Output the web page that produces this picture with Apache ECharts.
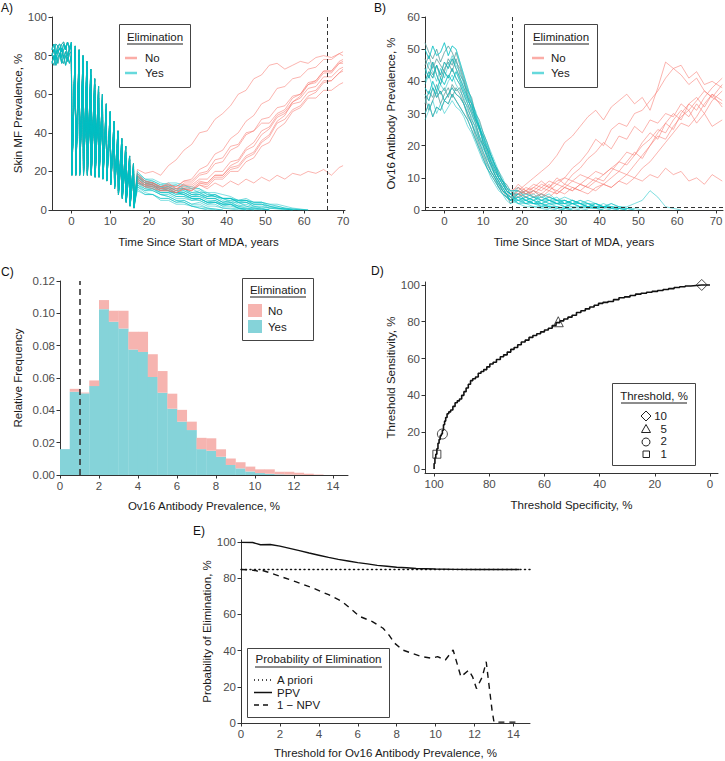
<!DOCTYPE html>
<html><head><meta charset="utf-8">
<script src="https://cdn.jsdelivr.net/npm/echarts@6/dist/echarts.min.js"></script>
<style>html,body{margin:0;padding:0;background:#fff}#c{width:725px;height:761px}</style>
</head><body><div id="c"></div>
<script>
// ---------------- DATA ----------------
// Panel A: skin mf prevalence trajectories
const A_PRE_T = [-5,-4.5,-4,-3.5,-3,-2.5,-2,-1.5,-1,-0.5,0];
const A_PRE_1 = [80,83,78,82,84,79,83,85,80,84,85];
const A_PRE_2 = [77,75,80,76,81,77,76,80,77,81,82];
const A_PRE_3 = [84,82,86,85,83,86,87,84,87,83,86];
const A_PRE_4 = [81,78,81,83,80,84,79,82,78,83,84];
const A_PRE_5 = [76,80,75,79,81,76,80,75,79,76,80];
const A_PRE_6 = [83,86,81,85,86,82,86,83,87,84,87];
const A_MDA_ROUNDS = [0,1,2,3,4,5,6,7,8,9,10,11,12,13,14,15,16];
const A_DROP_T = 0.12;
const A_PEAK_1 = [85,83,80,77,73,68,64,60,55,51,46,41,37,33,28,24];
const A_PEAK_2 = [83,80,77,74,70,65,61,57,52,48,43,38,34,30,26,22];
const A_PEAK_3 = [81,78,74,71,67,62,58,54,49,45,40,35,31,27,23,20];
const A_TROUGH_1 = [20,20,20,20,20,20,19,19,18,17,15,13,10,8,6,4,3];
const A_TROUGH_2 = [19,19,19,19,19,19,18,18,17,16,14,12,9,7,5,3,2];
const A_TROUGH_3 = [18,18,18,18,18,18,17,17,16,15,13,11,8,6,4,2,1];
const A_POST_T = [17,19,21,23,25,27,29,31,33,35,37,39,41,43,45,47,49,51,53,55,57,59,61,63,65,67,69,70];
// "No" (no elimination) runs after MDA stops
const A_NO_1 = [21,19,20,18,23,26,31,34,40,41,47,50,54,60,62,68,70,75,76,73,75,77,76,79,80,79,81,82];
const A_NO_2 = [19,15,14,12,13,12,15,16,21,23,29,31,37,40,46,49,55,57,63,64,68,69,73,74,78,78,81,80];
const A_NO_3 = [18,14,13,11,12,10,14,14,18,19,24,25,31,33,39,41,47,48,53,54,59,60,66,67,72,72,77,78];
const A_NO_4 = [16,13,12,10,11,9,11,10,14,14,18,18,23,25,31,33,39,42,48,50,55,56,61,62,67,67,71,72];
const A_NO_5 = [17,14,14,12,14,11,13,13,16,16,20,20,25,26,32,35,41,43,49,51,56,58,63,64,69,69,73,74];
const A_NO_6 = [15,12,12,10,10,9,11,10,13,12,16,16,20,20,25,27,33,35,42,45,51,53,58,58,62,62,65,66];
const A_NO_7 = [16,13,13,11,11,10,12,11,14,13,17,17,21,22,27,29,35,38,45,47,52,54,59,61,66,67,71,73];
const A_NO_8 = [14,12,11,10,10,9,11,10,13,11,14,12,15,13,16,14,17,15,18,16,19,18,20,19,21,18,22,23];
const A_NO_9 = [18,15,14,12,13,12,15,15,19,20,26,27,33,34,40,41,45,45,50,52,58,60,65,66,71,71,76,77];
const A_NO_10 = [15,13,13,11,12,11,13,12,15,14,18,18,22,23,28,30,36,39,46,49,56,59,65,67,72,72,76,76];
// "Yes" (elimination) runs after MDA stops
const A_YES_1 = [17,14,13,11,10,8,8,6,6,4,4,2,2,1,0.5,0];
const A_YES_2 = [19,15,14,12,12,13,11,11,9,9,7,6,4,4,2,1,0.5,0];
const A_YES_3 = [14,11,10,8,7,5,5,3,3,1,0.5,0];
const A_YES_4 = [18,14,13,10,10,8,9,7,7,6,6,4,5,5,6,4,4,2,1,0.5,0];
const A_YES_5 = [15,12,11,8,7,5,4,2,1,0];
const A_YES_6 = [16,13,13,11,11,9,9,7,8,6,6,4,5,3,4,2,2,1,1,0.5,0];
const A_YES_7 = [20,16,15,13,12,10,10,8,8,6,6,4,4,2,1,0.5,0];
const A_YES_8 = [13,10,10,8,8,6,6,5,5,3,4,2,3,1,1,0.5,0.5,0];
const A_YES_9 = [17,15,15,13,14,14,13,11,11,8,8,6,6,4,4,2,1,0];
const A_YES_10 = [14,12,12,9,9,7,7,5,6,4,5,3,4,2,3,1.5,1.5,1,1,0.5,0.3,0.2,0];
const A_YES_11 = [12,9,8,6,6,4,4,2,2,1,0.5,0];
const A_YES_12 = [16,14,14,12,13,11,11,9,9,7,8,6,6,5,5,4,4,3,3,2,1,0.5,0];
const A_YES_13 = [15,12,12,10,10,9,9,7,7,5,5,3,3,1,0];
const A_YES_14 = [11,8,8,6,6,4,5,3,4,2,2,1,1,0.5,0];
const A_YES_15 = [18,15,14,12,11,11,11,9,10,8,7,6,6,4,5,4,4,3,2,1,0.5,0];
const A_YES_16 = [13,11,11,9,9,7,7,6,6,4,4,3,3,2,2,1,0.5,0];
const A_YES_17 = [16,13,13,10,11,9,10,8,9,7,8,6,6,5,5,3,3,2,1,0.5,0];
const A_YES_18 = [12,10,11,9,9,9,8,6,6,4,4,3,3,1,0.5,0];
const A_YES_19 = [19,16,16,14,13,13,12,12,11,9,9,8,7,5,5,3,3,1,0.5,0];
const A_YES_20 = [14,13,12,12,10,9,8,6,5,3,3,1,0.5,0];
const A_YES_21 = [10,8,8,5,5,3,3,2,1,0.5,0];
const A_YES_22 = [17,14,14,11,12,10,11,8,8,7,7,5,6,4,4,3,3,2,2,1,0.5,0.3,0];
const A_REF_X = 66;

// Panel B: Ov16 antibody prevalence trajectories
const B_PHASE_T = [-5,-4,-3,-2,-1,0,1,2,3,4,5,6,7,8,9,10,11,12,13,14,15,16,17];
const B_PHASE_1 = [44,41,46,42,39,43,41,44,41,39,36,33,30,27,23,20,17,14,11,9,7,5,4];
const B_PHASE_2 = [36,34,38,35,37,34,36,38,36,35,33,30,27,24,21,18,15,12,10,8,6,5,3];
const B_PHASE_3 = [50,47,51,48,49,52,48,51,50,46,42,38,34,30,26,22,19,16,13,10,8,6,5];
const B_PHASE_4 = [30,33,29,32,31,34,33,36,34,32,30,28,25,22,19,16,13,11,9,7,5,4,3];
const B_PHASE_5 = [40,43,41,45,42,46,44,47,44,41,38,35,31,28,25,21,18,15,12,10,8,6,5];
const B_PHASE_6 = [38,36,40,37,41,39,42,40,43,40,37,34,32,29,26,23,20,17,14,11,9,7,6];
const B_PHASE_7 = [47,44,42,45,41,44,46,43,47,42,40,35,33,28,26,21,19,15,13,10,9,6,4];
const B_PHASE_8 = [33,37,35,39,36,38,35,39,37,38,34,32,28,26,22,20,16,14,11,9,6,5,2];
const B_PHASE_9 = [42,46,43,40,44,41,45,48,45,43,39,37,33,31,27,24,21,18,15,12,10,7,5];
const B_PHASE_10 = [35,31,34,37,33,36,38,35,38,36,33,29,27,23,20,17,14,12,10,7,6,4,3];
const B_PHASE_11 = [45,48,44,47,45,43,47,45,49,45,41,37,35,30,28,24,21,17,14,12,9,8,6];
const B_PHASE_12 = [39,42,38,36,39,37,40,42,39,37,35,31,29,25,22,19,17,13,11,8,7,5,3];
const B_PHASE_13 = [52,49,47,50,46,49,51,49,46,44,40,36,33,29,25,23,19,17,14,11,9,7,5];
const B_PHASE_14 = [28,31,34,30,33,30,32,34,32,31,29,26,24,21,18,15,13,10,8,6,5,3,2];
const B_POST_T = [19,21,23,25,27,29,31,33,35,37,39,41,43,45,47,49,51,53,55,57,59,61,63,65,67,69,71.6];
const B_NO_1 = [6,8,10,12,14,17,21,23,26,29,31,28,32,34,36,33,35,31,38,46,44,45,41,43,39,40,38];
const B_NO_2 = [5,7,6,8,7,9,10,13,15,18,22,20,25,27,26,30,31,34,37,41,44,42,39,41,37,35,33];
const B_NO_3 = [4,6,5,7,6,5,7,6,8,7,9,8,10,12,11,14,17,20,24,27,30,28,33,35,32,36,34];
const B_NO_4 = [7,5,6,4,6,8,7,9,8,10,9,11,13,12,15,18,16,20,23,22,26,29,31,34,37,35,39];
const B_NO_5 = [5,6,4,5,7,6,8,7,6,8,10,9,12,15,14,17,21,24,22,27,25,30,33,31,35,38,41];
const B_NO_6 = [6,5,7,6,8,5,7,6,8,7,6,8,7,9,8,10,9,11,10,13,11,12,9,10,8,11,9];
const B_NO_7 = [8,6,7,9,7,10,8,11,13,16,18,21,19,23,22,26,24,28,27,30,29,33,31,27,30,26,28];
const B_NO_8 = [5,4,6,5,4,6,5,7,6,5,7,8,7,9,11,10,13,15,18,21,24,27,26,29,33,36,32];
const B_NO_9 = [7,6,8,7,9,8,10,9,11,10,12,11,13,15,18,17,20,22,25,24,28,31,29,33,30,34,37];
const B_YES_1 = [3,2,3,2,1.5,2,1,1,0.5,0];
const B_YES_2 = [4,3,4,3,3,2,2,3,2,1,1,0.5,0];
const B_YES_3 = [2,2,1,1,0.5,0];
const B_YES_4 = [5,4,3,4,3,2,3,2,2,1,2,1,1,0.5,0];
const B_YES_5 = [3,4,3,2,3,2,2,1,1,0.5,0.5,0];
const B_YES_6 = [6,4,5,3,4,3,2,3,2,2,1,2,1,1,0.5,0.5,0];
const B_YES_7 = [2,1,1,0.5,0];
const B_YES_8 = [4,5,4,3,4,3,3,2,3,2,2,1,2,1,1,2,3,6,4,1,0.5,0];
const B_YES_9 = [3,3,2,2,1,1,0.5,0.5,0];
const B_YES_10 = [5,3,4,2,3,2,1,2,1,1,0.5,0];
const B_YES_11 = [4,3,2,3,2,2,3,2,1,2,1,1,1,0.5,0.5,0];
const B_YES_12 = [2,3,2,1,1,0.5,0];
const B_YES_13 = [6,5,4,4,3,3,2,2,2,1,1,1,0.5,0.5,0];
const B_YES_14 = [3,2,2,1.5,1,1,0.5,0];
const B_YES_15 = [5,6,4,5,3,4,2,3,2,1,2,1,0.5,0];
const B_YES_16 = [4,2,3,1,2,1,0.5,0];
const B_YES_17 = [7,5,6,4,5,3,4,3,2,3,2,1,1,0.5,0];
const B_YES_18 = [3,4,2,3,2,3,1,2,1,1,0.5,1,0.5,0];
const B_YES_19 = [5,3,2,2,1,0.5,0];
const B_YES_20 = [6,4,3,5,4,3,3,2,3,2,1,1,2,1,0.5,0];
const B_REF_X = 17.5;
const B_REF_Y = 1;

// Panel C: histogram (bin width 0.5)
const C_BIN_START = [0,0.5,1,1.5,2,2.5,3,3.5,4,4.5,5,5.5,6,6.5,7,7.5,8,8.5,9,9.5,10,10.5,11,11.5,12,12.5,13];
const C_BIN_WIDTH = 0.5;
const C_YES = [0.016,0.0515,0.0505,0.0550,0.1026,0.0948,0.0906,0.0776,0.0761,0.0606,0.0509,0.0410,0.0330,0.0278,0.0160,0.0150,0.0113,0.0062,0.0041,0.0022,0.0012,0.0008,0.0004,0.0002,0.0001,0,0];
const C_NO  = [0,0.0018,0.0005,0.0035,0.0056,0.0068,0.0110,0.0110,0.0125,0.0141,0.0134,0.0093,0.0073,0.0052,0.0070,0.0077,0.0046,0.0040,0.0038,0.0030,0.0023,0.0027,0.0016,0.0018,0.0013,0.0008,0.0003];
const C_REF_X = 1;

// Panel D: ROC-style step curve (specificity, sensitivity)
const D_SPEC = [100,99.7,99.4,99,98.6,98.2,97.8,97.4,97,96.6,96.2,95.8,95.3,94.7,94,93.2,92.4,91.6,90.8,90,89.2,88.4,87.6,86.8,86,85,84,83,82,80.9,79.8,78.6,77.4,76,74.8,73.5,72.2,71,69.7,68.4,67,65.6,64.2,62.8,61.4,60,58.6,57.2,55.8,54.4,53,51.5,50,48.4,46.8,45.2,43.6,42,40.4,38.8,37,35,33,31,29,27,25,23,21,19,17,15,13,11,9,7,5,3,0];
const D_SENS = [0,3,6,8,11,14,16,18,19,21,24,26,28,30,31,32,34,36,37,38,40,42,44,46,48,49,50,52,53,54,55.5,57,58,59.5,61,62,63.5,65,66,67.5,69,70,71.5,72.5,73.5,74.5,75.5,76.5,78,79.5,80.5,81.5,82.5,83.5,85,86,87,88,89,90,90.5,91,92,93,93.5,94.3,95,95.5,96,96.5,97,97.5,98,98.6,99,99.4,99.7,100,100];
const D_MARK_LABELS = ['10','5','2','1'];
const D_MARK_SPEC = [3,55,97,99];
const D_MARK_SENS = [100,80,19,8];

// Panel E: probability of elimination vs threshold
const E_APRIORI = 84.7;
const E_APRIORI_X = [0,14.85];
const E_PPV_X = [0,0.6,0.8,1.0,1.5,2.0,2.5,3.0,3.5,4.0,4.5,5.0,5.5,6.0,6.5,7.0,7.5,8.0,8.5,9.0,10,11,12,13,14.3];
const E_PPV   = [99.7,99.6,99.0,98.4,98.5,97.6,96.4,95.1,93.8,92.6,91.4,90.3,89.4,88.5,87.8,87.0,86.5,86.0,85.7,85.3,85.0,84.8,84.7,84.7,84.7];
const E_NPV_X = [0,0.5,0.8,0.9,1.0,1.1,1.4,2.0,2.8,3.7,4.5,5.2,5.7,6.1,6.75,7.3,7.6,7.9,8.3,8.8,9.3,9.8,10.1,10.5,10.9,11.3,11.7,11.9,12.1,12.4,12.6,12.9,13.0,14.3];
const E_NPV   = [84.7,84.5,84.0,83.6,83.8,84.2,83.2,81,78,74.5,70.8,67,62.5,58.8,56,52.3,48.6,44,40.3,38.4,36.6,35.7,36.6,34.8,40.3,25.5,29.2,25.5,19,25.5,33.8,7,0.5,0.5];

// Tick values
const A_XTICKS = [0,10,20,30,40,50,60,70];
const A_YTICKS = [0,20,40,60,80,100];
const B_XTICKS = [0,10,20,30,40,50,60,70];
const B_YTICKS = [0,10,20,30,40,50,60];
const C_XTICKS = [0,2,4,6,8,10,12,14];
const C_YTICKS = [0,0.02,0.04,0.06,0.08,0.10,0.12];
const D_XTICKS = [0,20,40,60,80,100];
const D_YTICKS = [0,20,40,60,80,100];
const E_XTICKS = [0,2,4,6,8,10,12,14];
const E_YTICKS = [0,20,40,60,80,100];

// ---------------- BUILD ----------------
const FONT = '"Liberation Sans", Arial, Helvetica, sans-serif';
const RED = '#F8766D', TEAL = '#00BFC4';
const HIST_YES = '#85D3D9', HIST_NO = '#F6B4B0';
const AXC = '#333333', TXT = '#1a1a1a', TICKTXT = '#4d4d4d';

function axis(ticks, name, gap, extra, fmt) {
  const a = {
    type: 'value', name: name, nameLocation: 'middle', nameGap: gap,
    nameTextStyle: {color: TXT, fontSize: 11.5, fontFamily: FONT},
    axisLine: {show: true, onZero: false, lineStyle: {color: AXC, width: 1}},
    axisTick: {show: true, length: 3.5, customValues: ticks, lineStyle: {color: AXC, width: 1}},
    axisLabel: {show: true, customValues: ticks, color: TICKTXT, fontSize: 11.5, fontFamily: FONT, margin: 5,
      formatter: fmt || (v => String(v))},
    splitLine: {show: false}
  };
  return Object.assign(a, extra);
}

const grids = [
  {left: 52, top: 17, width: 293, height: 193},
  {left: 425, top: 17, width: 298, height: 193},
  {left: 60, top: 281, width: 288, height: 194},
  {left: 425, top: 282, width: 293, height: 191},
  {left: 241, top: 540, width: 289, height: 183}
].map(g => Object.assign(g, {containLabel: false, outerBoundsMode: 'none'}));

const xAxes = [
  axis(A_XTICKS, 'Time Since Start of MDA, years', 26, {gridIndex: 0, min: -5, max: 70.5}),
  axis(B_XTICKS, 'Time Since Start of MDA, years', 26, {gridIndex: 1, min: -5, max: 71.8}),
  axis(C_XTICKS, 'Ov16 Antibody Prevalence, %', 25, {gridIndex: 2, min: 0, max: 14.77}),
  axis(D_XTICKS, 'Threshold Specificity, %', 26, {gridIndex: 3, min: -2.9, max: 103.3, inverse: true}),
  axis(E_XTICKS, 'Threshold for Ov16 Antibody Prevalence, %', 24, {gridIndex: 4, min: 0, max: 14.85})
];
const yAxes = [
  axis(A_YTICKS, 'Skin MF Prevalence, %', 28, {gridIndex: 0, min: 0, max: 100}),
  axis(B_YTICKS, 'Ov16 Antibody Prevalence, %', 28, {gridIndex: 1, min: 0, max: 60}),
  axis(C_YTICKS, 'Relative Frequency', 36, {gridIndex: 2, min: 0, max: 0.12}, v => v.toFixed(2)),
  axis(D_YTICKS, 'Threshold Sensitivity, %', 28, {gridIndex: 3, min: -2.2, max: 101.6}),
  axis(E_YTICKS, 'Probability of Elimination, %', 27, {gridIndex: 4, min: 0, max: 101})
];

const series = [];
function lineSeries(gi, pts, color, opacity, extra) {
  return Object.assign({
    type: 'line', xAxisIndex: gi, yAxisIndex: gi, data: pts, showSymbol: false, symbol: 'none',
    silent: true, animation: false, lineStyle: {color: color, width: 1, opacity: opacity}, z: 2
  }, extra || {});
}

// Panel A
const A_PRES = [A_PRE_1, A_PRE_2, A_PRE_3, A_PRE_4, A_PRE_5, A_PRE_6];
const A_PEAKS = [A_PEAK_1, A_PEAK_2, A_PEAK_3];
const A_TROUGHS = [A_TROUGH_1, A_TROUGH_2, A_TROUGH_3];
const A_NO = [A_NO_1,A_NO_2,A_NO_3,A_NO_4,A_NO_5,A_NO_6,A_NO_7,A_NO_8,A_NO_9,A_NO_10];
const A_YES = [A_YES_1,A_YES_2,A_YES_3,A_YES_4,A_YES_5,A_YES_6,A_YES_7,A_YES_8,A_YES_9,A_YES_10,A_YES_11,
  A_YES_12,A_YES_13,A_YES_14,A_YES_15,A_YES_16,A_YES_17,A_YES_18,A_YES_19,A_YES_20,A_YES_21,A_YES_22];
function aMda(pre, peaks, troughs, post) {
  const p = A_PRE_T.map((t, i) => [t, pre[i]]);
  A_MDA_ROUNDS.forEach((r, k) => {
    p.push([r + A_DROP_T, troughs[k]]);
    if (k < peaks.length) p.push([A_MDA_ROUNDS[k + 1], peaks[k]]);
  });
  p.push([A_POST_T[0], post[0]]);
  return p;
}
const aPost = post => post.map((v, i) => [A_POST_T[i], v]);

A_NO.forEach((d, i) => series.push(lineSeries(0, aMda(A_PRES[i % 6], A_PEAKS[i % 3], A_TROUGHS[i % 3], d), RED, 0.5)));
A_YES.forEach((d, i) => series.push(lineSeries(0, aMda(A_PRES[(i + 3) % 6], A_PEAKS[(i + 1) % 3], A_TROUGHS[(i + 1) % 3], d), TEAL, 0.45)));
A_YES.forEach(d => series.push(lineSeries(0, aPost(d), TEAL, 0.5)));
A_NO.forEach(d => series.push(lineSeries(0, aPost(d), RED, 0.55)));
series.push(lineSeries(0, [], '#000', 1, {markLine: {silent: true, symbol: 'none', animation: false, label: {show: false},
  lineStyle: {color: '#333', type: [4, 3], width: 1, opacity: 1}, data: [{xAxis: A_REF_X}]}}));

// Panel B
const B_PHASES = [B_PHASE_1,B_PHASE_2,B_PHASE_3,B_PHASE_4,B_PHASE_5,B_PHASE_6,B_PHASE_7,B_PHASE_8,B_PHASE_9,
  B_PHASE_10,B_PHASE_11,B_PHASE_12,B_PHASE_13,B_PHASE_14];
const B_NO = [B_NO_1,B_NO_2,B_NO_3,B_NO_4,B_NO_5,B_NO_6,B_NO_7,B_NO_8,B_NO_9];
const B_YES = [B_YES_1,B_YES_2,B_YES_3,B_YES_4,B_YES_5,B_YES_6,B_YES_7,B_YES_8,B_YES_9,B_YES_10,B_YES_11,B_YES_12,
  B_YES_13,B_YES_14,B_YES_15,B_YES_16,B_YES_17,B_YES_18,B_YES_19,B_YES_20];
function bMda(phase, post) {
  const p = B_PHASE_T.map((t, i) => [t, phase[i]]);
  p.push([B_POST_T[0], post[0]]);
  return p;
}
const bPost = post => post.map((v, i) => [B_POST_T[i], v]);
B_NO.forEach((d, i) => series.push(lineSeries(1, bMda(B_PHASES[(i * 3) % 14], d), RED, 0.5)));
B_YES.forEach((d, i) => series.push(lineSeries(1, bMda(B_PHASES[i % 14], d), TEAL, 0.5)));
B_YES.forEach(d => series.push(lineSeries(1, bPost(d), TEAL, 0.5)));
B_NO.forEach(d => series.push(lineSeries(1, bPost(d), RED, 0.55)));
series.push(lineSeries(1, [], '#000', 1, {markLine: {silent: true, symbol: 'none', animation: false, label: {show: false},
  lineStyle: {color: '#333', type: [4, 3], width: 1, opacity: 1}, data: [{xAxis: B_REF_X}, {yAxis: B_REF_Y}]}}));

// Panel C
function histSeries(lo, hi, color) {
  return {
    type: 'custom', xAxisIndex: 2, yAxisIndex: 2, silent: true, animation: false,
    data: C_BIN_START.map((s, i) => [s, s + C_BIN_WIDTH, lo[i], hi[i]]),
    encode: {x: [0, 1], y: [2, 3]},
    renderItem: (params, api) => {
      const a = api.coord([api.value(0), api.value(3)]);
      const b = api.coord([api.value(1), api.value(2)]);
      if (b[1] - a[1] < 0.01) return null;
      return {type: 'rect', shape: {x: a[0], y: a[1], width: b[0] - a[0] + 0.3, height: b[1] - a[1]}, style: {fill: color}};
    }
  };
}
const C_ZERO = C_YES.map(() => 0);
const C_TOTAL = C_YES.map((v, i) => v + C_NO[i]);
series.push(histSeries(C_ZERO, C_YES, HIST_YES));
series.push(histSeries(C_YES, C_TOTAL, HIST_NO));
series.push(lineSeries(2, [], '#000', 1, {markLine: {silent: true, symbol: 'none', animation: false, label: {show: false},
  lineStyle: {color: '#333', type: [6, 4], width: 1.6, opacity: 1}, data: [{xAxis: C_REF_X}]}}));

// Panel D
series.push(lineSeries(3, D_SPEC.map((s, i) => [s, D_SENS[i]]), '#111', 1, {step: 'start', lineStyle: {color: '#111', width: 1.6}}));
const D_SYMBOLS = ['diamond', 'triangle', 'circle', 'rect'];
const D_SIZES = [11, 10, 10, 8];
series.push({
  type: 'scatter', xAxisIndex: 3, yAxisIndex: 3, silent: true, animation: false, z: 5,
  data: D_MARK_SPEC.map((s, i) => ({value: [s, D_MARK_SENS[i]], symbol: D_SYMBOLS[i], symbolSize: D_SIZES[i]})),
  itemStyle: {color: 'rgba(255,255,255,0)', borderColor: '#222', borderWidth: 1}
});

// Panel E
series.push(lineSeries(4, E_APRIORI_X.map(x => [x, E_APRIORI]), '#111', 1, {lineStyle: {color: '#111', width: 1.5, type: [1, 3.5], cap: 'round'}}));
series.push(lineSeries(4, E_PPV_X.map((x, i) => [x, E_PPV[i]]), '#111', 1, {lineStyle: {color: '#111', width: 1.4}}));
series.push(lineSeries(4, E_NPV_X.map((x, i) => [x, E_NPV[i]]), '#111', 1, {lineStyle: {color: '#111', width: 1.4, type: [6, 5]}}));

// ---------------- GRAPHICS (legends & panel labels) ----------------
const gfx = [];
function T(x, y, s, align, color, size) {
  gfx.push({type: 'text', x: x, y: y, silent: true, z: 110,
    style: {text: s, fill: color || TXT, fontSize: size || 11.5, fontFamily: FONT,
      align: align || 'left', verticalAlign: 'middle', textAlign: align || 'left', textVerticalAlign: 'middle'}});
}
function L(x1, y1, x2, y2, stroke, w, dash, op) {
  gfx.push({type: 'line', silent: true, z: 110, shape: {x1: x1, y1: y1, x2: x2, y2: y2},
    style: {stroke: stroke, lineWidth: w || 1, lineDash: dash || null, opacity: op == null ? 1 : op, lineCap: 'butt'}});
}
function R(x, y, w, h, fill, stroke) {
  gfx.push({type: 'rect', silent: true, z: 105, shape: {x: x, y: y, width: w, height: h},
    style: {fill: fill || 'none', stroke: stroke || null, lineWidth: 1}});
}
// panel labels
T(1, 8, 'A)', 'left', '#111', 12);
T(374, 8, 'B)', 'left', '#111', 12);
T(1, 272, 'C)', 'left', '#111', 12);
T(371, 271, 'D)', 'left', '#111', 12);
T(193, 531, 'E)', 'left', '#111', 12);
// A legend
R(119.5, 24.5, 71, 63, '#fff', '#444');
T(155, 37, 'Elimination', 'center');
L(127, 44, 183, 44, TXT, 1);
L(125, 58, 137, 58, RED, 2.5, null, 0.6); T(145, 58, 'No');
L(125, 73, 137, 73, TEAL, 2.5, null, 0.6); T(145, 73, 'Yes');
// B legend
R(524.5, 24.5, 73, 63, '#fff', '#444');
T(561, 37, 'Elimination', 'center');
L(533, 44, 589, 44, TXT, 1);
L(532, 58, 544, 58, RED, 2.5, null, 0.6); T(551, 58, 'No');
L(532, 73, 544, 73, TEAL, 2.5, null, 0.6); T(551, 73, 'Yes');
// C legend
R(242.5, 278.5, 71, 62, '#fff', '#444');
T(278, 290, 'Elimination', 'center');
L(250, 297, 306, 297, TXT, 1);
R(248, 304, 14, 13, HIST_NO, null); T(268, 310.5, 'No');
R(248, 320, 14, 13, HIST_YES, null); T(268, 326.5, 'Yes');
// D legend
R(612.5, 383.5, 83, 82, '#fff', '#444');
T(654, 396, 'Threshold, %', 'center');
L(621, 403, 687, 403, TXT, 1);
gfx.push({type: 'polygon', silent: true, z: 110, shape: {points: [[646, 411], [651, 416], [646, 421], [641, 416]]}, style: {fill: 'none', stroke: '#222', lineWidth: 1}});
gfx.push({type: 'polygon', silent: true, z: 110, shape: {points: [[646, 424.5], [650.5, 432.5], [641.5, 432.5]]}, style: {fill: 'none', stroke: '#222', lineWidth: 1}});
gfx.push({type: 'circle', silent: true, z: 110, shape: {cx: 646, cy: 442, r: 4}, style: {fill: 'none', stroke: '#222', lineWidth: 1}});
gfx.push({type: 'rect', silent: true, z: 110, shape: {x: 643, y: 451, width: 6.5, height: 6.5}, style: {fill: 'none', stroke: '#222', lineWidth: 1}});
D_MARK_LABELS.forEach((s, i) => T(667, 416 + i * 12.7, s, 'right'));
// E legend
R(247.5, 648.5, 142, 69, '#fff', '#444');
T(318.5, 659, 'Probability of Elimination', 'center');
L(255, 667, 382, 667, TXT, 1);
L(254, 680, 272, 680, '#111', 1.5, [1, 3]); T(277, 680, 'A priori');
L(254, 692.5, 272, 692.5, '#111', 1.5); T(277, 692.5, 'PPV');
L(254, 705, 272, 705, '#111', 1.5, [5, 4]); T(277, 705, '1 \u2212 NPV');

const chart = echarts.init(document.getElementById('c'), null, {renderer: 'svg', width: 725, height: 761});
chart.setOption({
  animation: false,
  backgroundColor: '#fff',
  textStyle: {fontFamily: FONT},
  grid: grids, xAxis: xAxes, yAxis: yAxes, series: series, graphic: gfx
});
</script></body></html>
